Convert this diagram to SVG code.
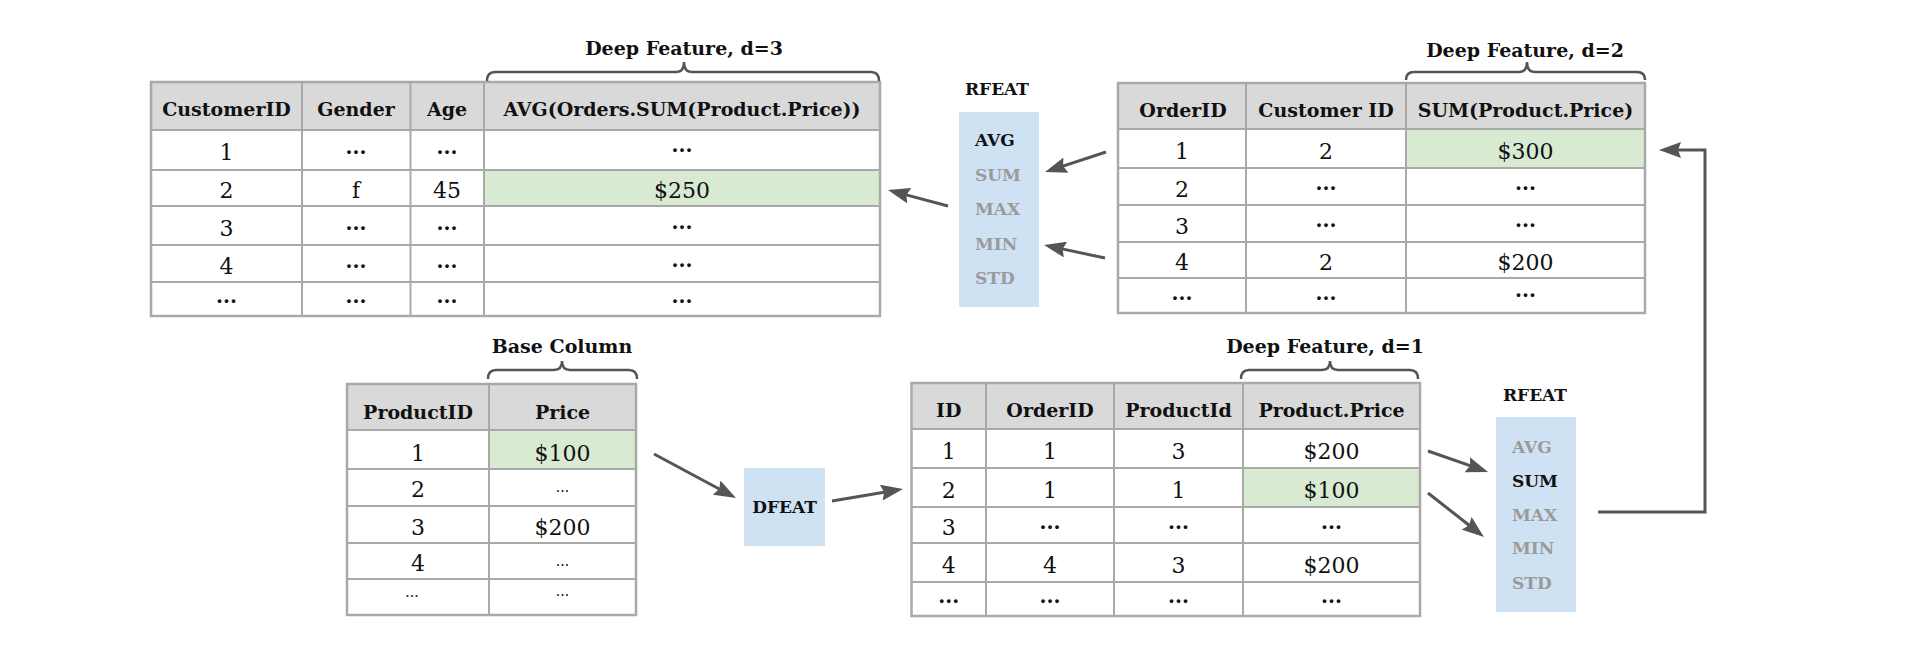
<svg xmlns="http://www.w3.org/2000/svg" width="1920" height="660" viewBox="0 0 1920 660">
<style>
.bg{fill:#ffffff}
.hd{fill:#d9d9d9}
.hl{fill:#d9ead3}
.op{fill:#cfe2f3}
.grid{stroke:#a9a9a9;stroke-width:2;fill:none}
.frame{stroke:#a9a9a9;stroke-width:2.5;fill:none}
.brace{stroke:#555;stroke-width:2.5;fill:none}
.conn{stroke:#555;stroke-width:3;fill:none}
text{font-family:"DejaVu Serif","Liberation Serif",serif;text-anchor:middle;fill:#111}
.h{font-size:19px;font-weight:bold}
.d{font-size:22px}
.dots{font-size:20px;font-weight:bold}
.sdots{font-size:14px}
.lbl{font-size:19px;font-weight:bold}
.rf{font-size:17px;font-weight:bold}
.fn{font-size:17px;font-weight:bold;text-anchor:start;fill:#9a9a9a}
.fn.on{fill:#111}
</style>
<defs>
<marker id="ah" markerUnits="userSpaceOnUse" markerWidth="22" markerHeight="16" refX="12" refY="8" orient="auto">
<path d="M0,0 L22,8 L0,16 L3,8 z" fill="#555"/>
</marker>
</defs>
<rect width="1920" height="660" fill="#ffffff"/>

<!-- Customers table (d=3) -->
<g id="customers">
<rect class="bg" x="151" y="82" width="729" height="234"/>
<rect class="hd" x="151" y="82" width="729" height="48"/>
<rect class="hl" x="484" y="170" width="396" height="36"/>
<path class="grid" d="M151,130H880M151,170H880M151,206H880M151,245H880M151,282H880M302,82V316M410.5,82V316M484,82V316"/>
<rect class="frame" x="151" y="82" width="729" height="234"/>
<text class="h" x="226.5" y="116">CustomerID</text>
<text class="h" x="356" y="116">Gender</text>
<text class="h" x="447" y="116">Age</text>
<text class="h" x="682" y="116">AVG(Orders.SUM(Product.Price))</text>
<text class="d" x="226.5" y="160">1</text>
<text class="dots" x="356" y="154">...</text>
<text class="dots" x="447" y="154">...</text>
<text class="dots" x="682" y="152">...</text>
<text class="d" x="226.5" y="198">2</text>
<text class="d" x="356" y="198">f</text>
<text class="d" x="447" y="198">45</text>
<text class="d" x="682" y="198">$250</text>
<text class="d" x="226.5" y="235.5">3</text>
<text class="dots" x="356" y="230">...</text>
<text class="dots" x="447" y="230">...</text>
<text class="dots" x="682" y="229">...</text>
<text class="d" x="226.5" y="273.5">4</text>
<text class="dots" x="356" y="268">...</text>
<text class="dots" x="447" y="268">...</text>
<text class="dots" x="682" y="267">...</text>
<text class="dots" x="226.5" y="303">...</text>
<text class="dots" x="356" y="303">...</text>
<text class="dots" x="447" y="303">...</text>
<text class="dots" x="682" y="303">...</text>
</g>
<g id="label-d3">
<path class="brace" d="M487,81 Q487,72 495,72 L676,72 Q684,72 684,62 Q684,72 692,72 L871,72 Q879,72 879,81"/>
<text class="lbl" x="684" y="55">Deep Feature, d=3</text>
</g>

<!-- Orders table (d=2) -->
<g id="orders">
<rect class="bg" x="1118" y="83" width="527" height="230"/>
<rect class="hd" x="1118" y="83" width="527" height="46"/>
<rect class="hl" x="1406" y="129" width="239" height="39"/>
<path class="grid" d="M1118,129H1645M1118,168H1645M1118,205H1645M1118,242H1645M1118,278H1645M1246,83V313M1406,83V313"/>
<rect class="frame" x="1118" y="83" width="527" height="230"/>
<text class="h" x="1183" y="117">OrderID</text>
<text class="h" x="1326" y="117">Customer ID</text>
<text class="h" x="1525.5" y="117">SUM(Product.Price)</text>
<text class="d" x="1182" y="158.5">1</text>
<text class="d" x="1326" y="158.5">2</text>
<text class="d" x="1525.5" y="158.5">$300</text>
<text class="d" x="1182" y="196.5">2</text>
<text class="dots" x="1326" y="190">...</text>
<text class="dots" x="1525.5" y="190">...</text>
<text class="d" x="1182" y="233.5">3</text>
<text class="dots" x="1326" y="227">...</text>
<text class="dots" x="1525.5" y="227">...</text>
<text class="d" x="1182" y="270">4</text>
<text class="d" x="1326" y="270">2</text>
<text class="d" x="1525.5" y="270">$200</text>
<text class="dots" x="1182" y="300">...</text>
<text class="dots" x="1326" y="300">...</text>
<text class="dots" x="1525.5" y="297">...</text>
</g>
<g id="label-d2">
<path class="brace" d="M1406,80 Q1406,72 1414,72 L1519,72 Q1527,72 1527,62 Q1527,72 1535,72 L1637,72 Q1645,72 1645,80"/>
<text class="lbl" x="1525" y="57">Deep Feature, d=2</text>
</g>

<!-- Products table (base) -->
<g id="products">
<rect class="bg" x="347" y="384" width="289" height="231"/>
<rect class="hd" x="347" y="384" width="289" height="46"/>
<rect class="hl" x="489" y="430" width="147" height="39"/>
<path class="grid" d="M347,430H636M347,469H636M347,506H636M347,543H636M347,579H636M489,384V615"/>
<rect class="frame" x="347" y="384" width="289" height="231"/>
<text class="h" x="418" y="419">ProductID</text>
<text class="h" x="562.5" y="419">Price</text>
<text class="d" x="418" y="461">1</text>
<text class="d" x="562.5" y="461">$100</text>
<text class="d" x="418" y="497">2</text>
<text class="sdots" x="562.5" y="492">...</text>
<text class="d" x="418" y="534.5">3</text>
<text class="d" x="562.5" y="534.5">$200</text>
<text class="d" x="418" y="571">4</text>
<text class="sdots" x="562.5" y="566">...</text>
<text class="sdots" x="412" y="597">...</text>
<text class="sdots" x="562.5" y="596">...</text>
</g>
<g id="label-base">
<path class="brace" d="M488,379 Q488,370 496,370 L554,370 Q562,370 562,361 Q562,370 570,370 L629,370 Q637,370 637,379"/>
<text class="lbl" x="562" y="353">Base Column</text>
</g>

<!-- OrderProducts table (d=1) -->
<g id="order-products">
<rect class="bg" x="911.5" y="383" width="508.5" height="233"/>
<rect class="hd" x="911.5" y="383" width="508.5" height="46"/>
<rect class="hl" x="1243" y="468" width="177" height="39"/>
<path class="grid" d="M911.5,429H1420M911.5,468H1420M911.5,507H1420M911.5,543H1420M911.5,582H1420M986,383V616M1114,383V616M1243,383V616"/>
<rect class="frame" x="911.5" y="383" width="508.5" height="233"/>
<text class="h" x="948.75" y="417">ID</text>
<text class="h" x="1050" y="417">OrderID</text>
<text class="h" x="1178.5" y="417">ProductId</text>
<text class="h" x="1331.5" y="417">Product.Price</text>
<text class="d" x="948.75" y="458.5">1</text>
<text class="d" x="1050" y="458.5">1</text>
<text class="d" x="1178.5" y="458.5">3</text>
<text class="d" x="1331.5" y="458.5">$200</text>
<text class="d" x="948.75" y="497.5">2</text>
<text class="d" x="1050" y="497.5">1</text>
<text class="d" x="1178.5" y="497.5">1</text>
<text class="d" x="1331.5" y="497.5">$100</text>
<text class="d" x="948.75" y="535">3</text>
<text class="dots" x="1050" y="529">...</text>
<text class="dots" x="1178.5" y="529">...</text>
<text class="dots" x="1331.5" y="529">...</text>
<text class="d" x="948.75" y="572.5">4</text>
<text class="d" x="1050" y="572.5">4</text>
<text class="d" x="1178.5" y="572.5">3</text>
<text class="d" x="1331.5" y="572.5">$200</text>
<text class="dots" x="948.75" y="603">...</text>
<text class="dots" x="1050" y="603">...</text>
<text class="dots" x="1178.5" y="603">...</text>
<text class="dots" x="1331.5" y="603">...</text>
</g>
<g id="label-d1">
<path class="brace" d="M1241,379 Q1241,370 1249,370 L1322,370 Q1330,370 1330,361 Q1330,370 1338,370 L1410,370 Q1418,370 1418,379"/>
<text class="lbl" x="1325" y="353">Deep Feature, d=1</text>
</g>

<!-- RFEAT (top) -->
<g id="rfeat-top">
<text class="rf" x="997" y="95">RFEAT</text>
<rect class="op" x="959" y="112" width="80" height="195"/>
<text class="fn on" x="975" y="146">AVG</text>
<text class="fn" x="975" y="181">SUM</text>
<text class="fn" x="975" y="215">MAX</text>
<text class="fn" x="975" y="250">MIN</text>
<text class="fn" x="975" y="284">STD</text>
</g>

<!-- RFEAT (bottom) -->
<g id="rfeat-bottom">
<text class="rf" x="1535" y="401">RFEAT</text>
<rect class="op" x="1496" y="417" width="80" height="195"/>
<text class="fn" x="1512" y="453">AVG</text>
<text class="fn on" x="1512" y="487">SUM</text>
<text class="fn" x="1512" y="521">MAX</text>
<text class="fn" x="1512" y="554">MIN</text>
<text class="fn" x="1512" y="589">STD</text>
</g>

<!-- DFEAT -->
<g id="dfeat">
<rect class="op" x="744" y="468" width="81" height="78"/>
<text class="rf" x="784.5" y="513">DFEAT</text>
</g>

<!-- Connectors -->
<g id="connectors">
<line class="conn" x1="948" y1="206" x2="897.7" y2="192.6" marker-end="url(#ah)"/>
<line class="conn" x1="1106" y1="152" x2="1054.5" y2="168.9" marker-end="url(#ah)"/>
<line class="conn" x1="1105" y1="258" x2="1053.8" y2="247.1" marker-end="url(#ah)"/>
<line class="conn" x1="654" y1="454" x2="727.2" y2="493.3" marker-end="url(#ah)"/>
<line class="conn" x1="832" y1="501" x2="893.1" y2="490.7" marker-end="url(#ah)"/>
<line class="conn" x1="1428" y1="451" x2="1478.6" y2="468.7" marker-end="url(#ah)"/>
<line class="conn" x1="1428" y1="493" x2="1476.1" y2="530.8" marker-end="url(#ah)"/>
<polyline class="conn" points="1598,512 1705,512 1705,150 1669,150" marker-end="url(#ah)"/>
</g>
</svg>
